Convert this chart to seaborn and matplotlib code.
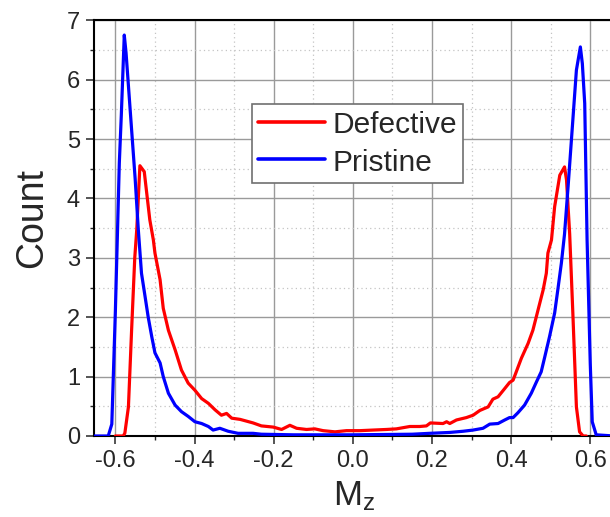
import matplotlib
matplotlib.use("Agg")
import matplotlib.pyplot as plt
import seaborn as sns
from matplotlib.ticker import MultipleLocator

# values
defective_x = [-0.600, -0.580, -0.576, -0.567, -0.559, -0.551, -0.546, -0.538, -0.527, -0.513,
               -0.504, -0.500, -0.487, -0.479, -0.466, -0.449, -0.433, -0.416, -0.399, -0.382,
               -0.365, -0.348, -0.332, -0.319, -0.306, -0.285, -0.252, -0.231, -0.201, -0.180,
               -0.159, -0.142, -0.117, -0.096, -0.075, -0.045, -0.016, 0.018, 0.051, 0.085,
               0.110, 0.127, 0.144, 0.169, 0.186, 0.196, 0.228, 0.237, 0.245, 0.262,
               0.287, 0.304, 0.321, 0.342, 0.354, 0.367, 0.384, 0.396, 0.405, 0.413,
               0.426, 0.443, 0.455, 0.468, 0.481, 0.489, 0.493, 0.502, 0.510, 0.523,
               0.535, 0.540, 0.548, 0.556, 0.565, 0.573, 0.582, 0.590]
defective_y = [0.0, 0.0, 0.05, 0.49, 1.78, 3.0, 3.47, 4.55, 4.45, 3.64,
               3.30, 3.08, 2.63, 2.15, 1.78, 1.45, 1.11, 0.89, 0.77, 0.63,
               0.55, 0.44, 0.35, 0.38, 0.30, 0.28, 0.22, 0.17, 0.15, 0.11,
               0.18, 0.13, 0.11, 0.12, 0.09, 0.07, 0.09, 0.09, 0.10, 0.11,
               0.12, 0.14, 0.16, 0.16, 0.17, 0.22, 0.21, 0.24, 0.21, 0.27,
               0.31, 0.35, 0.43, 0.49, 0.62, 0.66, 0.80, 0.90, 0.94, 1.08,
               1.31, 1.56, 1.78, 2.12, 2.46, 2.74, 3.08, 3.30, 3.86, 4.39,
               4.53, 4.31, 3.40, 2.07, 0.49, 0.07, 0.0, 0.0]

pristine_x = [-0.660, -0.618, -0.609, -0.600, -0.590, -0.585, -0.5775, -0.573, -0.560, -0.550,
              -0.542, -0.534, -0.525, -0.517, -0.508, -0.500, -0.487, -0.479, -0.466, -0.449,
              -0.433, -0.416, -0.399, -0.382, -0.365, -0.353, -0.336, -0.315, -0.290, -0.252,
              -0.231, -0.150, 0.000, 0.150, 0.194, 0.245, 0.279, 0.304, 0.329, 0.346,
              0.367, 0.384, 0.396, 0.405, 0.417, 0.434, 0.451, 0.464, 0.476, 0.485,
              0.497, 0.510, 0.518, 0.527, 0.535, 0.544, 0.556, 0.565, 0.575, 0.580,
              0.586, 0.592, 0.600, 0.605, 0.615, 0.660]
pristine_y = [0.0, 0.0, 0.2, 2.1, 4.6, 5.4, 6.75, 6.45, 5.25, 4.33,
              3.47, 2.74, 2.35, 2.0, 1.67, 1.40, 1.23, 1.0, 0.72, 0.52,
              0.41, 0.33, 0.24, 0.21, 0.16, 0.10, 0.13, 0.08, 0.045, 0.045,
              0.03, 0.02, 0.02, 0.03, 0.045, 0.06, 0.08, 0.10, 0.13, 0.20,
              0.21, 0.27, 0.31, 0.31, 0.39, 0.52, 0.72, 0.91, 1.08, 1.33,
              1.67, 2.07, 2.46, 2.91, 3.40, 4.2, 5.32, 6.16, 6.55, 6.27,
              5.6, 3.3, 1.22, 0.24, 0.02, 0.0]

sns.set_style("ticks")
plt.rcParams['font.family'] = ['Liberation Sans', 'DejaVu Sans']
plt.rcParams['mathtext.default'] = 'regular'

fig = plt.figure(figsize=(6.1, 5.17), dpi=100)
ax = fig.add_axes([94 / 610, 1 - 436 / 517, (614 - 94) / 610, (436 - 20.2) / 517])

sns.lineplot(x=defective_x, y=defective_y, color='#ff0000', lw=2.3, label='Defective',
             sort=False, estimator=None, ax=ax, zorder=3)
sns.lineplot(x=pristine_x, y=pristine_y, color='#0000ff', lw=2.3, label='Pristine',
             sort=False, estimator=None, ax=ax, zorder=3)

ax.set_xlim(-0.654, 0.66)
ax.set_ylim(0, 7)
ax.xaxis.set_major_locator(MultipleLocator(0.2))
ax.xaxis.set_minor_locator(MultipleLocator(0.1))
ax.yaxis.set_major_locator(MultipleLocator(1))
ax.yaxis.set_minor_locator(MultipleLocator(0.5))
ax.set_xticks([-0.6, -0.4, -0.2, 0.0, 0.2, 0.4, 0.6])
ax.set_xticklabels(['-0.6', '-0.4', '-0.2', '0.0', '0.2', '0.4', '0.6'])

ax.grid(which='major', color='#9a9a9a', lw=1.0, ls='-', zorder=0)
ax.grid(which='minor', color='#c4c4c4', lw=0.9, ls=(0, (1, 2.5)), zorder=0)
ax.set_axisbelow(True)

for side in ['left', 'bottom', 'top']:
    ax.spines[side].set_color('black')
    ax.spines[side].set_linewidth(1.5)
ax.spines['right'].set_visible(False)

ax.tick_params(which='major', direction='out', length=6, width=1.1, labelsize=17, pad=4,
               top=False, right=False)
ax.tick_params(which='minor', direction='out', length=3, width=1.0, top=False, right=False)

ax.set_xlabel('M$_z$', fontsize=25, labelpad=5)
ax.set_ylabel('Count', fontsize=27)
ax.yaxis.set_label_coords(-0.085, 0.525)

leg = ax.legend(loc='upper left', bbox_to_anchor=(252.3 / 610, 1 - 104.3 / 517),
                bbox_transform=fig.transFigure, borderaxespad=0, fontsize=21.5,
                handlelength=2.25, handletextpad=0.22, borderpad=0.2, labelspacing=0.3,
                handleheight=0.9, fancybox=False, framealpha=1, edgecolor='#707070')
leg.get_frame().set_linewidth(1.2)
for line in leg.get_lines():
    line.set_linewidth(2.6)

fig.savefig('out.png', dpi=100)
